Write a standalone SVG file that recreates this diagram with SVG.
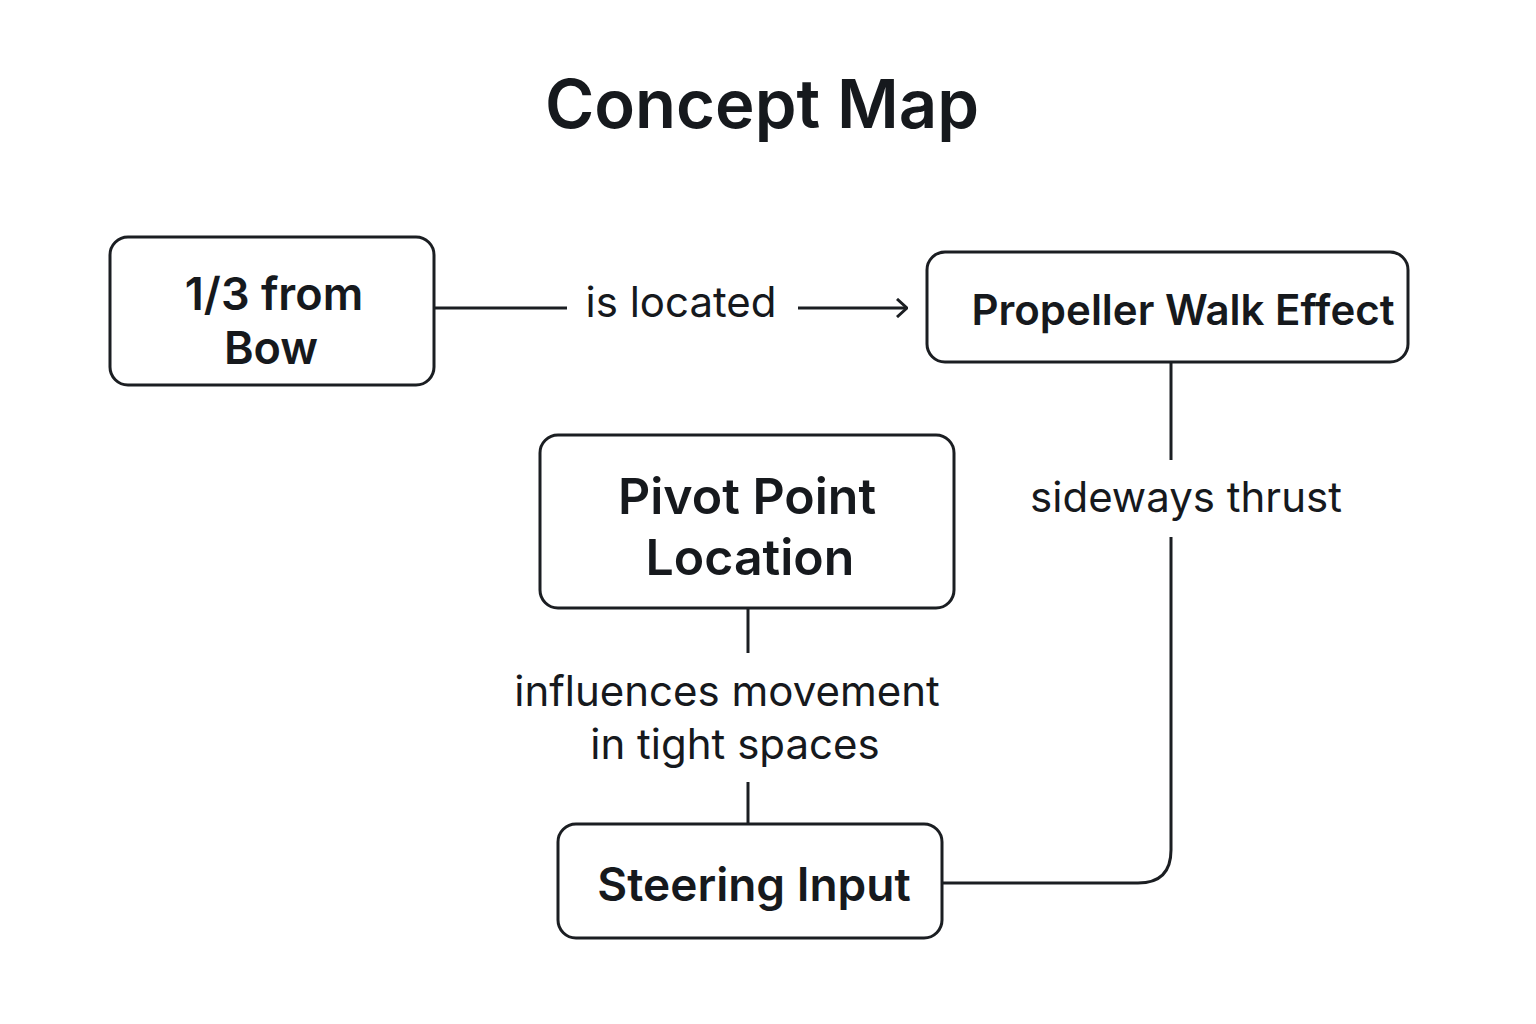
<svg xmlns="http://www.w3.org/2000/svg" width="1536" height="1024" viewBox="0 0 1536 1024">
<style>
.box{fill:#fff;stroke:#1b1e22;stroke-width:3}
.edge{fill:none;stroke:#1b1e22;stroke-width:3}
.t{font-family:Inter,"Liberation Sans",sans-serif;fill:#16191d;text-anchor:middle}
.node{font-weight:600}
.lbl{font-weight:400;font-size:42px}
</style>
<defs>
<marker id="arr" viewBox="0 0 12 20" refX="11" refY="10" markerWidth="12" markerHeight="20" markerUnits="userSpaceOnUse" orient="auto">
<path d="M1,1 L11,10 L1,19" fill="none" stroke="#1b1e22" stroke-width="3"/>
</marker>
</defs>
<rect width="1536" height="1024" fill="#fff"/>
<text class="t" x="762" y="128" font-size="67" font-weight="600">Concept Map</text>
<g id="connectors">
<path class="edge" d="M434,308 H567"/>
<path class="edge" d="M798,308 H907" marker-end="url(#arr)"/>
<text class="t lbl" x="681" y="317">is located</text>
<path class="edge" d="M1171,362 V460"/>
<path class="edge" d="M1171,537 V850 Q1171,883 1138,883 H942"/>
<text class="t lbl" x="1186" y="512">sideways thrust</text>
<path class="edge" d="M748,608 V653"/>
<path class="edge" d="M748,782 V824"/>
<text class="t lbl" x="727" y="706">influences movement</text>
<text class="t lbl" x="735" y="759">in tight spaces</text>
</g>
<g id="node-bow">
<rect class="box" x="110" y="237" width="324" height="148" rx="18"/>
<text class="t node" x="274" y="310" font-size="45" font-weight="500">1/3 from</text>
<text class="t node" x="271" y="364" font-size="45" font-weight="500">Bow</text>
</g>
<g id="node-propeller">
<rect class="box" x="927" y="252" width="481" height="110" rx="18"/>
<text class="t node" x="1183" y="325" font-size="42">Propeller Walk Effect</text>
</g>
<g id="node-pivot">
<rect class="box" x="540" y="435" width="414" height="173" rx="18"/>
<text class="t node" x="747" y="514" font-size="50">Pivot Point</text>
<text class="t node" x="750" y="575" font-size="50">Location</text>
</g>
<g id="node-steering">
<rect class="box" x="558" y="824" width="384" height="114" rx="18"/>
<text class="t node" x="754" y="901" font-size="46">Steering Input</text>
</g>
</svg>
